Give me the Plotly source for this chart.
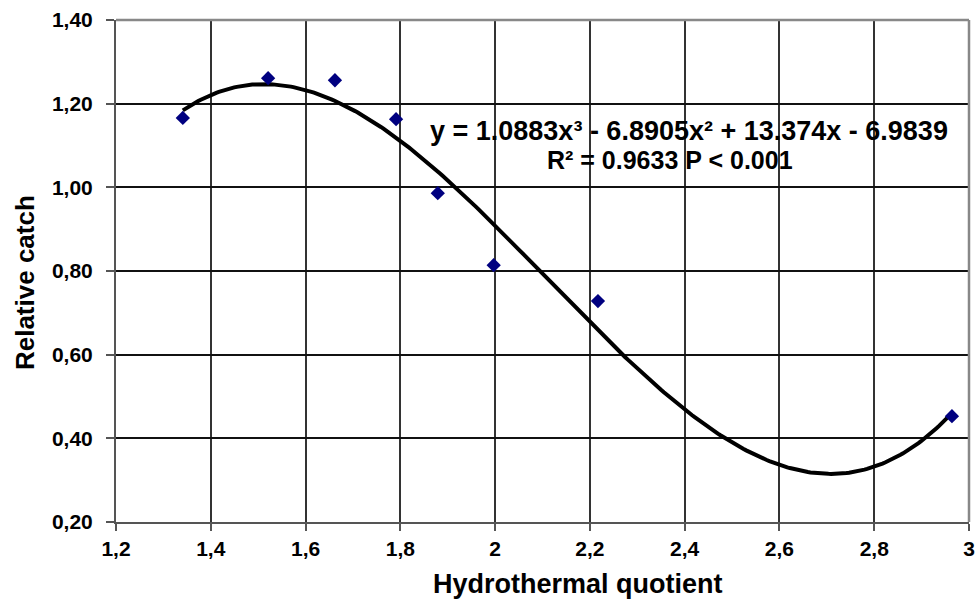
import numpy as np
import plotly.graph_objects as go

hq = [1.341, 1.521, 1.662, 1.791, 1.879, 1.997, 2.217, 2.964]
relative_catch = [1.166, 1.261, 1.256, 1.163, 0.986, 0.814, 0.728, 0.453]

# Trendline coefficients (from the equation shown on the chart)
coef = [1.0883, -6.8905, 13.374, -6.9839]

x_ticks = [1.2, 1.4, 1.6, 1.8, 2.0, 2.2, 2.4, 2.6, 2.8, 3.0]
x_ticktext = ["1,2", "1,4", "1,6", "1,8", "2", "2,2", "2,4", "2,6", "2,8", "3"]
y_ticks = [0.2, 0.4, 0.6, 0.8, 1.0, 1.2, 1.4]
y_ticktext = ["0,20", "0,40", "0,60", "0,80", "1,00", "1,20", "1,40"]

xs = np.linspace(min(hq), max(hq), 300)
ys = np.polyval(coef, xs)

FONT = "Liberation Sans, Arial, sans-serif"

fig = go.Figure()
fig.add_trace(go.Scatter(x=xs, y=ys, mode="lines",
                         line=dict(color="black", width=4), hoverinfo="skip",
                         showlegend=False))
fig.add_trace(go.Scatter(x=hq, y=relative_catch, mode="markers",
                         marker=dict(symbol="diamond", size=11, color="#000080"),
                         showlegend=False))

fig.update_layout(
    width=979, height=600,
    margin=dict(l=116, r=10, t=20, b=78, autoexpand=False),
    plot_bgcolor="white", paper_bgcolor="white",
    font=dict(family=FONT, color="black"),
    xaxis=dict(range=[1.2, 3.0], tickvals=x_ticks, ticktext=x_ticktext,
               showgrid=True, gridcolor="#333333", gridwidth=1.5,
               showline=True, linecolor="#555555", linewidth=2,
               ticks="outside", ticklen=7, tickcolor="#555555", tickwidth=2,
               tickfont=dict(size=21, family=FONT, weight="bold"),
               zeroline=False, mirror=False, automargin=False),
    yaxis=dict(range=[0.2, 1.4], tickvals=y_ticks, ticktext=y_ticktext,
               showgrid=True, gridcolor="#111111", gridwidth=1.5,
               showline=True, linecolor="#555555", linewidth=2,
               ticks="outside", ticklen=8, tickcolor="#555555", tickwidth=2,
               ticklabelstandoff=9,
               tickfont=dict(size=21, family=FONT, weight="bold"),
               zeroline=False, automargin=False),
    annotations=[
        dict(text="<b>Hydrothermal quotient</b>", xref="paper", yref="paper",
             x=0.5416, y=0, yshift=-62, xanchor="center", yanchor="middle",
             showarrow=False, font=dict(size=27, family=FONT)),
        dict(text="<b>Relative catch</b>", xref="paper", yref="paper",
             x=0, xshift=-91, y=0.476, xanchor="center", yanchor="middle",
             textangle=-90, showarrow=False, font=dict(size=26, family=FONT)),
        dict(text="<b>y = 1.0883x³ - 6.8905x² + 13.374x - 6.9839</b>",
             xref="x", yref="y", x=2.409, y=1.1344, xanchor="center", yanchor="middle",
             showarrow=False, font=dict(size=27, family=FONT)),
        dict(text="<b>R² = 0.9633 P < 0.001</b>",
             xref="x", yref="y", x=2.368, y=1.065, xanchor="center", yanchor="middle",
             showarrow=False, font=dict(size=25, family=FONT)),
    ],
    shapes=[
        dict(type="line", xref="paper", yref="paper", x0=0, x1=1, y0=1, y1=1,
             line=dict(color="#888888", width=2.5)),
        dict(type="line", xref="paper", yref="paper", x0=1, x1=1, y0=0, y1=1,
             line=dict(color="#888888", width=2.5)),
    ],
)

fig.write_html("out.html", config={"displayModeBar": False},
               post_script="document.body.style.margin='0';document.body.style.overflow='hidden';")
